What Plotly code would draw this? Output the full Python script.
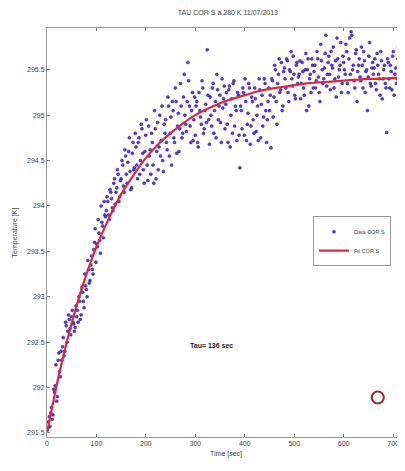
import plotly.graph_objects as go

title_text = "TAU COR S a 280 K 11/07/2013"
x_title = "Time [sec]"
y_title = "Temperature [K]"
tau_text = "<b>Tau= 136 sec</b>"

# measured data, first set (every 3 s starting at 0 s)
data_time_a = list(range(0, 724, 3))
data_temp_a = [
    291.53, 291.62, 291.57, 291.78, 291.70, 291.95, 292.25, 291.90, 292.38, 292.12,
    292.30, 292.55, 292.40, 292.68, 292.62, 292.75, 292.58, 292.85, 292.70, 292.66,
    292.78, 292.72, 292.95, 292.80, 293.05, 292.88, 293.12, 293.00, 293.30, 293.18,
    293.45, 293.25, 293.60, 293.38, 293.55, 293.70, 293.48, 293.82, 293.65, 293.90,
    293.95, 294.05, 293.85, 294.15, 293.98, 294.25, 294.02, 294.20, 294.35, 294.10,
    294.30, 294.45, 294.15, 294.55, 294.25, 294.60, 294.38, 294.20, 294.70, 294.42,
    294.65, 294.30, 294.75, 294.50, 294.85, 294.40, 294.60, 294.95, 294.28, 294.55,
    294.35, 294.70, 294.25, 294.85, 294.60, 294.40, 295.00, 294.72, 294.50, 294.90,
    294.95, 294.62, 295.10, 294.80, 294.45, 295.05, 294.70, 295.15, 294.88, 294.60,
    295.35, 294.75, 295.20, 295.00, 294.82, 295.58, 295.10, 294.70, 295.25, 294.95,
    294.78, 295.15, 294.65, 295.05, 294.90, 295.30, 294.85, 295.12, 295.72, 294.95,
    295.20, 294.88, 295.35, 295.05, 294.75, 295.28, 295.10, 294.92, 295.40, 295.18,
    294.85, 295.25, 294.70, 295.32, 295.00, 294.80, 295.38, 295.10, 294.72, 295.22,
    294.42, 295.05, 295.30, 294.78, 295.15, 294.90, 295.35, 294.68, 295.20, 294.95,
    295.30, 294.82, 295.10, 295.40, 294.75, 295.22, 294.98, 295.35, 294.70, 295.15,
    295.05, 294.64, 295.38, 295.20, 295.50, 294.90, 295.45, 295.25, 295.58, 295.10,
    295.52, 295.30, 295.60, 295.15, 295.48, 295.40, 295.65, 295.22, 295.55, 295.35,
    295.45, 295.18, 295.58, 295.30, 295.50, 295.05, 295.62, 295.40, 295.25, 295.55,
    295.48, 295.30, 295.70, 295.42, 295.15, 295.60, 295.35, 295.52, 295.88, 295.45,
    295.65, 295.28, 295.55, 295.75, 295.40, 295.20, 295.62, 295.50, 295.80, 295.35,
    295.58, 295.45, 295.70, 295.25, 295.85, 295.92, 295.50, 295.38, 295.68, 295.15,
    295.55, 295.42, 295.75, 295.30, 295.60, 295.48, 295.05, 295.65, 295.35, 295.52,
    295.45, 295.62, 295.28, 295.55, 295.40, 295.70, 295.18, 295.50, 295.35, 294.81,
    295.58, 295.30, 295.48, 295.65, 295.22, 295.52, 295.40, 295.75, 295.10, 295.45,
    295.55, 295.32,
]

# measured data, second set (every 3 s starting at 1.5 s)
data_time_b = [1.5 + 3 * k for k in range(241)]
data_temp_b = [
    291.55, 291.68, 291.72, 291.65, 291.98, 292.02, 291.85, 292.30, 292.18, 292.40,
    292.45, 292.35, 292.72, 292.50, 292.80, 292.65, 292.78, 292.72, 292.62, 292.90,
    292.85, 293.00, 292.75, 293.10, 292.95, 293.25, 293.08, 293.40, 293.15, 293.35,
    293.30, 293.52, 293.75, 293.58, 293.85, 293.62, 294.00, 293.78, 294.05, 293.88,
    294.10, 293.90, 294.18, 294.08, 293.95, 294.30, 294.15, 294.40, 294.05, 294.28,
    294.50, 294.22, 294.62, 294.35, 294.48, 294.75, 294.18, 294.58, 294.40, 294.80,
    294.45, 294.70, 294.35, 294.90, 294.58, 294.25, 294.78, 294.45, 294.88, 294.62,
    294.80, 294.45, 295.05, 294.30, 294.92, 294.65, 294.55, 295.10, 294.38, 294.80,
    294.70, 295.20, 294.55, 294.98, 295.15, 294.75, 295.30, 294.58, 295.02, 294.85,
    295.10, 294.80, 295.45, 294.90, 295.15, 295.38, 294.88, 295.05, 294.72, 295.20,
    295.10, 294.70, 295.25, 294.98, 295.38, 294.80, 295.05, 294.92, 295.22, 294.68,
    295.00, 295.30, 294.80, 295.15, 295.45, 294.95, 295.22, 294.70, 295.08, 295.32,
    295.12, 294.90, 295.28, 294.65, 295.18, 295.35, 294.88, 295.05, 295.25, 294.78,
    295.10, 294.85, 295.25, 295.40, 294.72, 295.02, 295.30, 294.88, 295.15, 294.80,
    295.18, 295.00, 294.72, 295.28, 295.12, 294.88, 295.40, 295.05, 294.95, 295.30,
    295.22, 295.40, 294.98, 295.55, 295.15, 295.35, 295.62, 295.28, 295.05, 295.48,
    295.40, 295.62, 295.25, 295.50, 295.70, 295.32, 295.45, 295.18, 295.58, 295.42,
    295.60, 295.35, 295.48, 295.22, 295.68, 295.50, 295.10, 295.45, 295.62, 295.30,
    295.55, 295.38, 295.62, 295.25, 295.78, 295.50, 295.40, 295.68, 295.32, 295.58,
    295.45, 295.70, 295.52, 295.30, 295.60, 295.85, 295.42, 295.55, 295.25, 295.65,
    295.50, 295.78, 295.35, 295.62, 295.45, 295.88, 295.55, 295.30, 295.72, 295.48,
    295.62, 295.38, 295.55, 295.70, 295.25, 295.50, 295.42, 295.80, 295.32, 295.58,
    295.52, 295.35, 295.68, 295.45, 295.22, 295.60, 295.40, 295.55, 295.30, 295.62,
    295.40, 295.55, 295.28, 295.70, 295.45, 295.35, 295.62, 295.20, 295.50, 295.42,
    295.48,
]

# fitted curve
fit_time = [0, 25, 50, 75, 100, 125, 150, 175, 200, 225, 250, 275, 300, 325, 350,
            375, 400, 425, 450, 475, 500, 525, 550, 575, 600, 625, 650, 675, 700, 725]
fit_temp = [291.50, 292.16, 292.71, 293.17, 293.55, 293.86, 294.13, 294.34, 294.53,
            294.68, 294.80, 294.91, 295.00, 295.07, 295.13, 295.18, 295.22, 295.26,
            295.29, 295.31, 295.33, 295.35, 295.36, 295.37, 295.38, 295.39, 295.40,
            295.40, 295.41, 295.41]

# red circle marker drawn in the lower right
ring_time = [669]
ring_temp = [291.89]

x_ticks = [0, 100, 200, 300, 400, 500, 600, 700]
y_ticks = [291.5, 292, 292.5, 293, 293.5, 294, 294.5, 295, 295.5]

font_family = "Liberation Sans Narrow, Liberation Sans, Arial, sans-serif"

data_time = data_time_a + data_time_b
data_temp = data_temp_a + data_temp_b

fig = go.Figure()
fig.add_trace(go.Scatter(
    x=data_time, y=data_temp, mode="markers", name="Data COR S",
    marker=dict(size=3, color="#5a3ad8", line=dict(width=0.5, color="#2a1a80")),
))
fig.add_trace(go.Scatter(
    x=fit_time, y=fit_temp, mode="lines", name="Fit COR S",
    line=dict(color="#e2253f", width=2.2, shape="spline"),
))
fig.add_trace(go.Scatter(
    x=ring_time, y=ring_temp, mode="markers", showlegend=False,
    marker=dict(symbol="circle-open", size=12, color="#9a2a2a", line=dict(width=2)),
))

axis_common = dict(
    showgrid=False, zeroline=False, showline=True, linecolor="#9a9a9a", linewidth=1,
    mirror="ticks", ticks="inside", ticklen=3, tickcolor="#777",
    tickfont=dict(size=7, color="#444", family=font_family),
)

# the page adds an 8px body margin, so the figure is sized to fit the window
fig.update_layout(
    width=397, height=463,
    margin=dict(l=39, r=0, t=20, b=34, autoexpand=False),
    paper_bgcolor="white", plot_bgcolor="white",
    title=dict(text=title_text, x=0.554, xanchor="center", y=0.99, yanchor="middle",
               font=dict(size=7, color="#444", family=font_family)),
    xaxis=dict(range=[0, 724], tickvals=x_ticks, ticktext=[str(v) for v in x_ticks],
               title=dict(text=x_title, font=dict(size=7, color="#444", family=font_family), standoff=4),
               **axis_common),
    yaxis=dict(range=[291.455, 295.96], tickvals=y_ticks, ticktext=[str(v) for v in y_ticks],
               title=dict(text=y_title, font=dict(size=7, color="#444", family=font_family), standoff=8),
               **axis_common),
    legend=dict(x=0.743, y=0.54, xanchor="left", yanchor="top",
                bgcolor="white", bordercolor="#999", borderwidth=1,
                font=dict(size=5.5, color="#444", family=font_family),
                itemwidth=30, tracegroupgap=0),
    showlegend=True,
    annotations=[dict(x=285, y=292.46, xref="x", yref="y", text=tau_text, showarrow=False,
                      xanchor="left", yanchor="middle",
                      font=dict(size=7, color="#222", family=font_family))],
)

fig.write_html("out.html")
